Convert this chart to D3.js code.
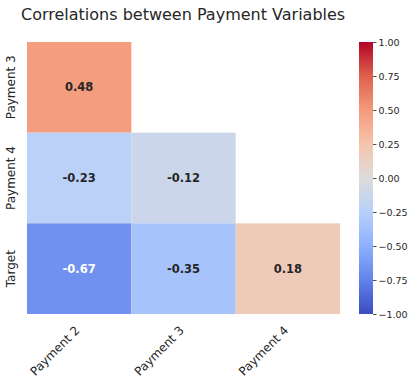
<!DOCTYPE html>
<html><head><meta charset="utf-8">
<script src="https://cdn.jsdelivr.net/npm/d3@7"></script>
<style>body{margin:0;background:#fff}svg{display:block}text{font-family:"DejaVu Sans",sans-serif}</style>
</head><body><svg id="c" width="417" height="383"></svg>
<script>
const rowLabels = ["Payment 3", "Payment 4", "Target"];
const colLabels = ["Payment 2", "Payment 3", "Payment 4"];
const rowPayment3 = [0.48, null, null];
const rowPayment4 = [-0.23, -0.12, null];
const rowTarget = [-0.67, -0.35, 0.18];
const values = [rowPayment3, rowPayment4, rowTarget];
const cbTicks = [-1, -0.75, -0.5, -0.25, 0, 0.25, 0.5, 0.75, 1];
const title = "Correlations between Payment Variables";
const coolwarmStops = ["#3b4cc0","#6282ea","#8db0fe","#b8d0f9","#dddcdc","#f5c4ac","#f49a7b","#de604d","#b40426"];

const svg = d3.select("#c");
const L = 27, R = 340, T = 42, B = 314;
const x = d3.scaleBand().domain(colLabels).range([L, R]);
const y = d3.scaleBand().domain(rowLabels).range([T, B]);
const cw = d3.scaleLinear().domain(coolwarmStops.map((d,i)=>-1 + 2*i/(coolwarmStops.length-1))).range(coolwarmStops).interpolate(d3.interpolateRgb);

const cells = [];
values.forEach((row, i) => row.forEach((v, j) => { if (v !== null) cells.push({r: rowLabels[i], c: colLabels[j], v}); }));

svg.append("g").selectAll("rect").data(cells).join("rect")
  .attr("x", d => x(d.c)).attr("y", d => y(d.r))
  .attr("width", x.bandwidth()).attr("height", y.bandwidth())
  .attr("fill", d => cw(d.v));

svg.append("g").selectAll("text").data(cells).join("text")
  .attr("x", d => x(d.c) + x.bandwidth()/2).attr("y", d => y(d.r) + y.bandwidth()/2)
  .attr("text-anchor", "middle").attr("dominant-baseline", "central")
  .attr("font-size", 11.5).attr("font-weight", "bold")
  .attr("fill", d => d.v < -0.6 ? "#ffffff" : "#262626")
  .text(d => d.v.toFixed(2));

// x labels
svg.append("g").selectAll("text").data(colLabels).join("text")
  .attr("transform", d => `translate(${x(d) + x.bandwidth()/2 - 5},${B + 11}) rotate(-45)`)
  .attr("text-anchor", "end").attr("dominant-baseline", "hanging")
  .attr("font-size", 12).attr("fill", "#262626").text(d => d);

// y labels
svg.append("g").selectAll("text").data(rowLabels).join("text")
  .attr("transform", d => `translate(15,${y(d) + y.bandwidth()/2}) rotate(-90)`)
  .attr("text-anchor", "middle")
  .attr("font-size", 12).attr("fill", "#262626").text(d => d);

// title
svg.append("text").attr("x", 21).attr("y", 20).attr("font-size", 16).attr("fill", "#262626").text(title);

// colorbar
const cbL = 359, cbW = 14;
const cy = d3.scaleLinear().domain([-1, 1]).range([B, T]);
const defs = svg.append("defs");
const grad = defs.append("linearGradient").attr("id", "cbg").attr("x1", 0).attr("y1", 1).attr("x2", 0).attr("y2", 0);
grad.selectAll("stop").data(coolwarmStops).join("stop")
  .attr("offset", (d,i) => i/(coolwarmStops.length-1)).attr("stop-color", d => d);
svg.append("rect").attr("x", cbL).attr("y", T).attr("width", cbW).attr("height", B - T).attr("fill", "url(#cbg)");
const ax = svg.append("g").attr("transform", `translate(${cbL + cbW},0)`)
  .call(d3.axisRight(cy).tickValues(cbTicks).tickFormat(d3.format(".2f")).tickSize(3.5).tickPadding(2));
ax.select(".domain").remove();
ax.selectAll("line").attr("stroke", "#262626").attr("stroke-width", 0.8);
ax.selectAll("text").attr("font-size", 9.5).attr("fill", "#262626").attr("font-family", "DejaVu Sans");
</script></body></html>
